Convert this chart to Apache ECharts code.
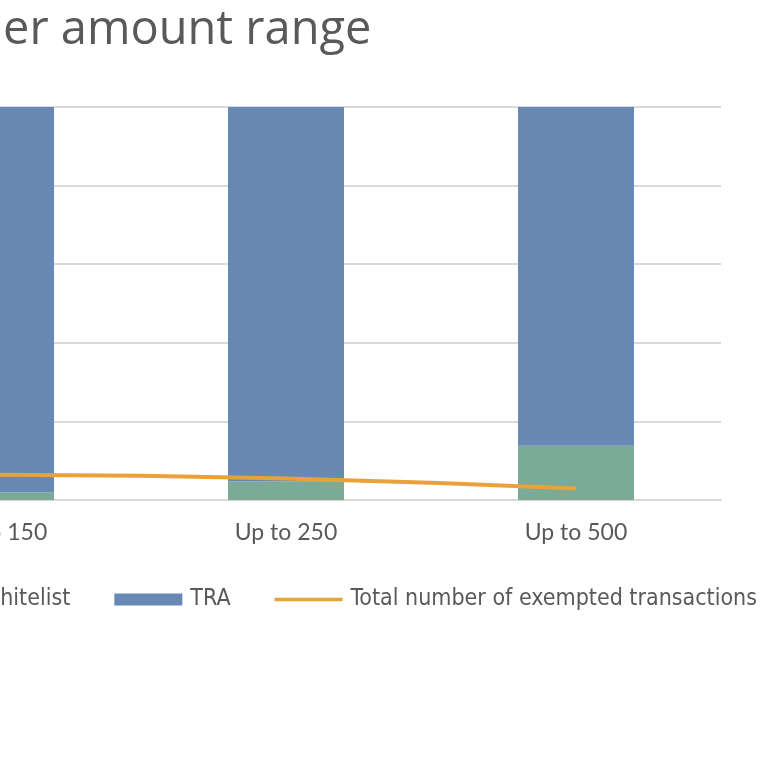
<!DOCTYPE html>
<html>
<head>
<meta charset="utf-8">
<script src="https://cdn.jsdelivr.net/npm/echarts@6/dist/echarts.min.js"></script>
<style>
  html, body { margin: 0; padding: 0; background: #fff; overflow: hidden; width: 768px; height: 768px; }
  /* the reference is a crop: the chart runs off the left edge */
  #main { width: 917px; height: 768px; margin-left: -149px; }
</style>
</head>
<body>
<div id="main"></div>
<script>
// values (share of transactions, %)
const categories = ['Up to 150', 'Up to 250', 'Up to 500'];
const whitelist = [1.9, 4.7, 13.8];
const tra = [98.1, 95.3, 86.2];
const exempted = [6.4, 5.5, 2.9];
const yTicks = [0, 20, 40, 60, 80, 100];

const chart = echarts.init(document.getElementById('main'));

// flat line icon for the legend, padded to the 12px item height
const lineIcon = 'path://M0,0 L0.01,0 L0.01,0.01 Z M0,4.2 L68,4.2 L68,7.8 L0,7.8 Z M0,12 L0.01,12 L0.01,11.99 Z';

const option = {
  animation: false,
  title: {
    text: 'er amount range',
    left: 147,
    top: 2,
    textStyle: { fontFamily: 'Open Sans', fontSize: 47, fontWeight: 'normal', color: '#595959' }
  },
  legend: {
    right: 6,
    width: 1400,
    top: 583,
    itemGap: 44,
    itemWidth: 68,
    itemHeight: 12,
    textStyle: {
      fontFamily: '"DejaVu Sans Condensed", "Liberation Sans Narrow", sans-serif',
      fontSize: 23, color: '#595959', padding: [0, 0, 0, 3]
    },
    data: [
      { name: 'Whitelist', icon: 'rect' },
      { name: 'TRA', icon: 'rect' },
      { name: 'Total number of exempted transactions', icon: lineIcon }
    ]
  },
  grid: { left: 0, right: 47, top: 107, bottom: 268 },
  xAxis: {
    type: 'category',
    data: categories,
    axisTick: { show: false },
    axisLine: { lineStyle: { color: '#d9d9d9', width: 2 } },
    axisLabel: { margin: 21, fontFamily: 'Lato', fontSize: 23, color: '#595959' }
  },
  yAxis: {
    type: 'value',
    min: yTicks[0],
    max: yTicks[yTicks.length - 1],
    interval: yTicks[1] - yTicks[0],
    axisLabel: { show: false },
    axisLine: { show: false },
    splitLine: { lineStyle: { color: '#d9d9d9', width: 2 } }
  },
  series: [
    {
      name: 'Whitelist',
      type: 'bar',
      stack: 'share',
      barWidth: '40%',
      data: whitelist,
      itemStyle: { color: '#7BAA97' }
    },
    {
      name: 'TRA',
      type: 'bar',
      stack: 'share',
      data: tra,
      itemStyle: { color: '#6889B3' }
    },
    {
      name: 'Total number of exempted transactions',
      type: 'line',
      data: exempted,
      smooth: true,
      symbol: 'none',
      lineStyle: { color: '#E9A23A', width: 4 },
      itemStyle: { color: '#E9A23A' },
      z: 5
    }
  ]
};

chart.setOption(option);
</script>
</body>
</html>
